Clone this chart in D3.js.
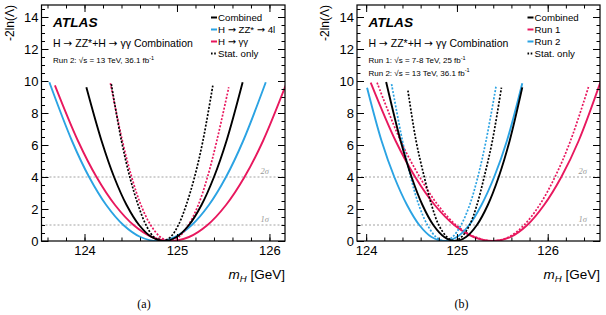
<!DOCTYPE html>
<html>
<head>
<meta charset="utf-8">
<style>
  body { margin: 0; background: #fff; }
  svg { font-family: "Liberation Sans", Arial, sans-serif; }
  .ref { stroke: #8c8c8c; stroke-width: 0.8; stroke-dasharray: 2,2; }
  .sig { fill: #999; font-family: "Liberation Serif", serif; font-size: 8.5px; font-style: italic; }
  .arr { font-family: "DejaVu Sans", sans-serif; }
  .domain { display: none; }
</style>
</head>
<body>
<div id="chart"></div>
<script src="https://cdn.jsdelivr.net/npm/d3@7"></script>
<script>
// tick values
var yMajor = [0, 2, 4, 6, 8, 10, 12, 14];
var xMajor = [124, 125, 126];

// panel (a): Run 2 only, scans (mH in GeV, -2ln(Lambda))
var aCombX = [124.02, 124.185, 124.32, 124.455, 124.59, 124.725, 124.86, 124.995, 125.13, 125.265, 125.40, 125.535, 125.71];
var aCombY = [9.61, 6.25, 4, 2.25, 1, 0.25, 0, 0.25, 1, 2.25, 4, 6.25, 9.92];
var aZZX = [123.62, 123.865, 124.05, 124.235, 124.42, 124.605, 124.79, 124.975, 125.16, 125.345, 125.53, 125.715, 125.96];
var aZZY = [9.92, 6.25, 4, 2.25, 1, 0.25, 0, 0.25, 1, 2.25, 4, 6.25, 9.92];
var aYYX = [123.68, 123.93, 124.13, 124.33, 124.53, 124.73, 124.93, 125.13, 125.33, 125.53, 125.73, 125.93, 126.21];
var aYYY = [9.73, 6.25, 4, 2.25, 1, 0.25, 0, 0.25, 1, 2.25, 4, 6.25, 10.24];
var aCombStatX = [124.29, 124.40, 124.49, 124.58, 124.665, 124.75, 124.84, 124.93, 125.015, 125.10, 125.19, 125.28, 125.39];
var aCombStatY = [9.8, 6.25, 4, 2.25, 1, 0.25, 0, 0.25, 1, 2.25, 4, 6.25, 9.8];
var aYYStatX = [124.28, 124.41, 124.51, 124.61, 124.715, 124.82, 124.92, 125.02, 125.125, 125.23, 125.33, 125.43, 125.56];
var aYYStatY = [9.86, 6.25, 4, 2.25, 1, 0.25, 0, 0.25, 1, 2.25, 4, 6.25, 9.61];

// panel (b): Run 1 + Run 2
var bCombX = [124.22, 124.38, 124.50, 124.62, 124.74, 124.86, 124.98, 125.10, 125.22, 125.34, 125.46, 125.58, 125.72];
var bCombY = [9.94, 6.25, 4, 2.25, 1, 0.25, 0, 0.25, 1, 2.25, 4, 6.25, 9.6];
var bRun1X = [124.05, 124.325, 124.54, 124.755, 124.97, 125.185, 125.40, 125.59, 125.775, 125.96, 126.15, 126.34, 126.60];
var bRun1Y = [9.9, 6.25, 4, 2.25, 1, 0.25, 0, 0.25, 1, 2.25, 4, 6.25, 10.24];
var bRun2X = [124.01, 124.17, 124.31, 124.45, 124.585, 124.72, 124.86, 125.00, 125.135, 125.27, 125.41, 125.55, 125.72];
var bRun2Y = [9.58, 6.25, 4, 2.25, 1, 0.25, 0, 0.25, 1, 2.25, 4, 6.25, 9.86];
var bCombStatX = [124.46, 124.55, 124.64, 124.72, 124.80, 124.89, 124.97, 125.05, 125.14, 125.22, 125.30, 125.39, 125.49];
var bCombStatY = [9.4, 6.25, 4, 2.25, 1, 0.25, 0, 0.25, 1, 2.25, 4, 6.25, 9.58];
var bRun1StatX = [124.12, 124.38, 124.59, 124.79, 124.99, 125.20, 125.40, 125.57, 125.74, 125.91, 126.08, 126.25, 126.45];
var bRun1StatY = [9.9, 6.25, 4, 2.25, 1, 0.25, 0, 0.25, 1, 2.25, 4, 6.25, 9.64];
var bRun2StatX = [124.28, 124.40, 124.49, 124.58, 124.675, 124.77, 124.86, 124.95, 125.045, 125.14, 125.23, 125.32, 125.43];
var bRun2StatY = [9.8, 6.25, 4, 2.25, 1, 0.25, 0, 0.25, 1, 2.25, 4, 6.25, 9.64];

var BLACK = "#000", BLUE = "#2ba3e3", PINK = "#e8185e";

var svg = d3.select("#chart").append("svg")
    .attr("width", 606)
    .attr("height", 315);

function zip(xs, ys) {
  return xs.map(function (v, i) { return [v, ys[i]]; });
}

// write a label, giving the arrows a wider font like the original
function arrowText(t, s) {
  s.split("→").forEach(function (part, i) {
    if (i > 0) t.append("tspan").attr("class", "arr").text("→");
    t.append("tspan").text(part);
  });
}

function drawPanel(p) {
  var x = d3.scaleLinear().domain(p.xDomain).range([p.left, p.right]);
  var y = d3.scaleLinear().domain([0, 14.75]).range([241, 5]);
  var g = svg.append("g");

  g.append("clipPath").attr("id", p.id)
    .append("rect")
    .attr("x", p.left).attr("y", 5)
    .attr("width", p.right - p.left).attr("height", 236);

  // 1 and 2 sigma reference lines
  [1, 4].forEach(function (v) {
    g.append("line").attr("class", "ref")
      .attr("x1", p.left).attr("x2", p.right)
      .attr("y1", y(v)).attr("y2", y(v));
  });
  g.append("text").attr("class", "sig")
    .attr("x", p.right - p.sigOff).attr("y", y(4) - 3)
    .attr("text-anchor", "end").text("2σ");
  g.append("text").attr("class", "sig")
    .attr("x", p.right - p.sigOff).attr("y", y(1) - 3)
    .attr("text-anchor", "end").text("1σ");

  var line = d3.line()
    .x(function (d) { return x(d[0]); })
    .y(function (d) { return y(d[1]); })
    .curve(d3.curveCatmullRom);

  var cg = g.append("g").attr("clip-path", "url(#" + p.id + ")");
  p.curves.forEach(function (c) {
    cg.append("path")
      .datum(zip(c.x, c.y))
      .attr("d", line)
      .attr("fill", "none")
      .attr("stroke", c.color)
      .attr("stroke-width", c.dash ? 1.7 : 1.9)
      .attr("stroke-dasharray", c.dash ? "2,1.6" : null);
  });

  // axes, ticks pointing inwards on all four sides
  var minorX = d3.range(123.6, 126.7, 0.2).filter(function (v) { return v >= p.xDomain[0] && v <= p.xDomain[1]; });
  var minorY = d3.range(0, 14.75, 0.5);

  function styleAxis(sel) {
    sel.attr("font-size", 13).attr("font-family", null);
    sel.selectAll("line").attr("stroke", "#000");
  }

  g.append("g").attr("transform", "translate(0,241)")
    .call(d3.axisBottom(x).tickValues(xMajor).tickSize(-7).tickPadding(5).tickFormat(d3.format("d")))
    .call(styleAxis);
  g.append("g").attr("transform", "translate(0,241)")
    .call(d3.axisBottom(x).tickValues(minorX).tickSize(-3.5).tickFormat(""))
    .call(styleAxis);
  g.append("g").attr("transform", "translate(0,5)")
    .call(d3.axisTop(x).tickValues(xMajor).tickSize(-7).tickFormat(""))
    .call(styleAxis);
  g.append("g").attr("transform", "translate(0,5)")
    .call(d3.axisTop(x).tickValues(minorX).tickSize(-3.5).tickFormat(""))
    .call(styleAxis);

  g.append("g").attr("transform", "translate(" + p.left + ",0)")
    .call(d3.axisLeft(y).tickValues(yMajor).tickSize(-7).tickPadding(3))
    .call(styleAxis);
  g.append("g").attr("transform", "translate(" + p.left + ",0)")
    .call(d3.axisLeft(y).tickValues(minorY).tickSize(-3.5).tickFormat(""))
    .call(styleAxis);
  g.append("g").attr("transform", "translate(" + p.right + ",0)")
    .call(d3.axisRight(y).tickValues(yMajor).tickSize(-7).tickFormat(""))
    .call(styleAxis);
  g.append("g").attr("transform", "translate(" + p.right + ",0)")
    .call(d3.axisRight(y).tickValues(minorY).tickSize(-3.5).tickFormat(""))
    .call(styleAxis);

  g.append("rect")
    .attr("x", p.left).attr("y", 5)
    .attr("width", p.right - p.left).attr("height", 236)
    .attr("fill", "none").attr("stroke", "#000").attr("stroke-width", 1.2);

  // axis titles
  g.append("text")
    .attr("transform", "translate(" + p.yLabelX + ",5) rotate(-90)")
    .attr("text-anchor", "end").attr("font-size", 12)
    .text("-2ln(Λ)");

  var xt = g.append("text").attr("x", p.right).attr("y", 279)
    .attr("text-anchor", "end").attr("font-size", 13.5);
  xt.append("tspan").attr("font-style", "italic").text("m");
  xt.append("tspan").attr("font-style", "italic").attr("font-size", 9.5).attr("dy", 3).text("H");
  xt.append("tspan").attr("dy", -3).text(" [GeV]");

  g.append("text")
    .attr("x", p.capX).attr("y", 308)
    .attr("text-anchor", "middle")
    .attr("font-family", "Liberation Serif, serif").attr("font-size", 12)
    .text(p.caption);

  // labels inside the frame
  var tx = p.left + 11.5;
  g.append("text").attr("x", tx).attr("y", 27)
    .attr("font-weight", "bold").attr("font-style", "italic").attr("font-size", 13.7)
    .text("ATLAS");
  arrowText(g.append("text").attr("x", tx).attr("y", 47).attr("font-size", 10.5),
    "H → ZZ*+H → γγ Combination");
  p.runs.forEach(function (r, i) {
    var t = g.append("text").attr("x", tx).attr("y", 63 + i * 12.5).attr("font-size", 8);
    t.append("tspan").text(r[0] + ": √s = " + r[1] + ", " + r[2] + " fb");
    t.append("tspan").attr("font-size", 5.5).attr("dy", -3.5).text("-1");
  });

  // legend
  p.legend.forEach(function (l, i) {
    var ly = 17.5 + i * 12;
    g.append("line")
      .attr("x1", p.legX).attr("x2", p.legX + 6)
      .attr("y1", ly).attr("y2", ly)
      .attr("stroke", l.color).attr("stroke-width", 2)
      .attr("stroke-dasharray", l.dash ? "1.6,1.6" : null);
    arrowText(g.append("text").attr("x", p.legX + 7).attr("y", ly + 3.5).attr("font-size", 9.7),
      l.label);
  });
}

drawPanel({
  id: "clipA", left: 41.5, right: 285, xDomain: [123.535, 126.168],
  yLabelX: 14, capX: 144, caption: "(a)", sigOff: 16, legX: 211,
  runs: [["Run 2", "13 TeV", "36.1"]],
  curves: [
    { x: aZZX, y: aZZY, color: BLUE },
    { x: aYYX, y: aYYY, color: PINK },
    { x: aYYStatX, y: aYYStatY, color: PINK, dash: true },
    { x: aCombStatX, y: aCombStatY, color: BLACK, dash: true },
    { x: aCombX, y: aCombY, color: BLACK }
  ],
  legend: [
    { label: "Combined", color: BLACK },
    { label: "H → ZZ* → 4l", color: BLUE },
    { label: "H → γγ", color: PINK },
    { label: "Stat. only", color: BLACK, dash: true }
  ]
});

drawPanel({
  id: "clipB", left: 357, right: 600, xDomain: [123.899, 126.576],
  yLabelX: 329, capX: 461.5, caption: "(b)", sigOff: 13, legX: 527.5,
  runs: [["Run 1", "7-8 TeV", "25"], ["Run 2", "13 TeV", "36.1"]],
  curves: [
    { x: bRun1X, y: bRun1Y, color: PINK },
    { x: bRun1StatX, y: bRun1StatY, color: PINK, dash: true },
    { x: bRun2X, y: bRun2Y, color: BLUE },
    { x: bRun2StatX, y: bRun2StatY, color: BLUE, dash: true },
    { x: bCombStatX, y: bCombStatY, color: BLACK, dash: true },
    { x: bCombX, y: bCombY, color: BLACK }
  ],
  legend: [
    { label: "Combined", color: BLACK },
    { label: "Run 1", color: PINK },
    { label: "Run 2", color: BLUE },
    { label: "Stat. only", color: BLACK, dash: true }
  ]
});
</script>
</body>
</html>
